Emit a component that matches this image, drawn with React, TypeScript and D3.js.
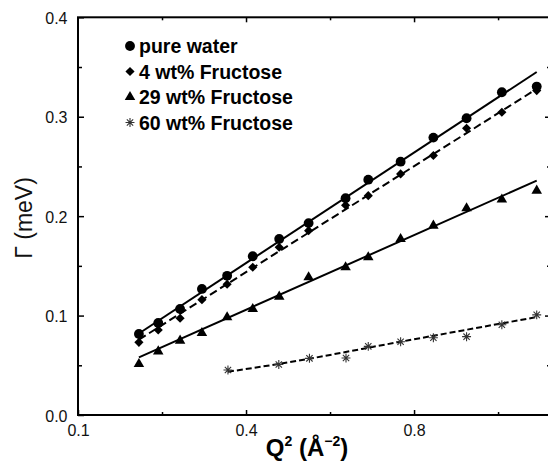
import React, { useRef, useEffect } from 'react'
import * as d3 from 'd3'

// Q^2 values shared by the first three series
const q2 = [0.145, 0.191, 0.243, 0.295, 0.355, 0.416, 0.479, 0.549, 0.637, 0.691, 0.768, 0.846, 0.925, 1.009, 1.092];
const pureWater = [0.0815, 0.0926, 0.1066, 0.1268, 0.140, 0.1597, 0.177, 0.193, 0.218, 0.2367, 0.2548, 0.279, 0.2985, 0.3246, 0.3303];
const fructose4 = [0.0731, 0.0855, 0.0973, 0.116, 0.1315, 0.1486, 0.1687, 0.1854, 0.211, 0.2206, 0.2425, 0.261, 0.2884, 0.3045, 0.3263];
const fructose29 = [0.0513, 0.064, 0.0748, 0.0825, 0.0983, 0.1066, 0.119, 0.1385, 0.1486, 0.1587, 0.177, 0.1904, 0.2079, 0.2167, 0.2257];

const q2Fructose60 = [0.357, 0.478, 0.551, 0.638, 0.691, 0.768, 0.846, 0.925, 1.009, 1.092];
const fructose60 = [0.0453, 0.0508, 0.057, 0.0573, 0.069, 0.0737, 0.0777, 0.0788, 0.0908, 0.1007];

// fitted lines, [Q^2, Gamma]
const fitWater: [number, number][] = [[0.145, 0.082], [1.092, 0.345]];
const fit4: [number, number][] = [[0.145, 0.0758], [1.092, 0.328]];
const fit29: [number, number][] = [[0.145, 0.058], [1.092, 0.2357]];
const fit60: [number, number][] = [[0.357, 0.0435], [0.48, 0.0515], [0.768, 0.0737], [1.092, 0.0985]];

const seriesNames = ['pure water', '4 wt% Fructose', '29 wt% Fructose', '60 wt% Fructose'];

const yTickValues = [0, 0.1, 0.2, 0.3, 0.4];
const yTickLabels = ['0.0', '0.1', '0.2', '0.3', '0.4'];
const yMinorTicks = [0.05, 0.15, 0.25, 0.35];
const xTickValues = [0, 0.4, 0.8];
const xTickLabels = ['0.1', '0.4', '0.8'];
const xMinorTicks = [0.2, 0.6, 1.0];

const asterisk = {
    draw(context: any, size: number) {
        const r = Math.sqrt(size) / 2;
        for (let i = 0; i < 4; i++) {
            const a = (i * Math.PI) / 4;
            context.moveTo(-r * Math.cos(a), -r * Math.sin(a));
            context.lineTo(r * Math.cos(a), r * Math.sin(a));
        }
    }
};

const font = "'Liberation Sans', Arial, Helvetica, sans-serif";

export default function App() {
    const visEl = useRef<HTMLDivElement>(null);
    const width = 548;
    const height = 462;

    useEffect(() => {
        const root = d3.select(visEl.current);
        root.selectAll('*').remove();
        const svg = root.append('svg')
            .attr('width', width)
            .attr('height', height)
            .style('display', 'block')
            .style('background', '#fff');

        const left = 78, right = 551, top = 17.3, bottom = 415;
        const xScale = d3.scaleLinear().domain([0, 1.126]).range([left, right]);
        const yScale = d3.scaleLinear().domain([0, 0.4]).range([bottom, top]);

        // major ticks + labels
        const xAxis = d3.axisBottom(xScale).tickValues(xTickValues)
            .tickSize(-5).tickPadding(9.3)
            .tickFormat((d, i) => xTickLabels[i]);
        const xAxisG = svg.append('g').attr('transform', `translate(0,${bottom})`).call(xAxis);
        xAxisG.select('.domain').remove();

        const yAxis = d3.axisLeft(yScale).tickValues(yTickValues)
            .tickSize(-6).tickPadding(10.5)
            .tickFormat((d, i) => yTickLabels[i]);
        const yAxisG = svg.append('g').attr('transform', `translate(${left},0)`).call(yAxis);
        yAxisG.select('.domain').remove();
        yAxisG.selectAll('text').attr('dy', '0.38em');

        [xAxisG, yAxisG].forEach(g => {
            g.selectAll('text')
                .attr('font-family', font)
                .attr('font-size', 16)
                .attr('fill', '#111');
            g.selectAll('line').attr('stroke', '#000').attr('stroke-width', 1.5);
        });

        // minor ticks and the top / right ticks
        const tickGroups = [
            svg.append('g').attr('transform', `translate(0,${bottom})`)
                .call(d3.axisBottom(xScale).tickValues(xMinorTicks).tickSize(-3).tickFormat(() => '')),
            svg.append('g').attr('transform', `translate(0,${top})`)
                .call(d3.axisTop(xScale).tickValues(xTickValues.slice(1)).tickSize(-5).tickFormat(() => '')),
            svg.append('g').attr('transform', `translate(0,${top})`)
                .call(d3.axisTop(xScale).tickValues(xMinorTicks).tickSize(-3).tickFormat(() => '')),
            svg.append('g').attr('transform', `translate(${left},0)`)
                .call(d3.axisLeft(yScale).tickValues(yMinorTicks).tickSize(-4).tickFormat(() => '')),
            svg.append('g').attr('transform', `translate(${right},0)`)
                .call(d3.axisRight(yScale).tickValues(yTickValues.slice(1, 4)).tickSize(-6).tickFormat(() => '')),
            svg.append('g').attr('transform', `translate(${right},0)`)
                .call(d3.axisRight(yScale).tickValues(yMinorTicks).tickSize(-4).tickFormat(() => '')),
        ];
        tickGroups.forEach(g => {
            g.select('.domain').remove();
            g.selectAll('line').attr('stroke', '#000').attr('stroke-width', 1.5);
        });

        // frame
        svg.append('rect')
            .attr('x', left).attr('y', top)
            .attr('width', right - left).attr('height', bottom - top)
            .attr('fill', 'none').attr('stroke', '#000').attr('stroke-width', 2);

        // fit lines
        const line = d3.line<[number, number]>().x(d => xScale(d[0])).y(d => yScale(d[1]));
        const fits = [
            { data: fitWater, dash: null, curve: d3.curveLinear },
            { data: fit4, dash: '8,4', curve: d3.curveLinear },
            { data: fit29, dash: null, curve: d3.curveLinear },
            { data: fit60, dash: '6,3', curve: d3.curveMonotoneX },
        ];
        fits.forEach(f => {
            svg.append('path')
                .attr('d', line.curve(f.curve)(f.data))
                .attr('fill', 'none')
                .attr('stroke', '#000')
                .attr('stroke-width', 2)
                .attr('stroke-dasharray', f.dash);
        });

        // markers
        const circle = d3.symbol().type(d3.symbolCircle).size(76)();
        const diamond = d3.symbol().type(d3.symbolSquare).size(42)();
        const triangle = d3.symbol().type(d3.symbolTriangle).size(48)();
        const star = d3.symbol().type(asterisk as any).size(80)();

        const drawMarks = (xs: number[], ys: number[], path: string | null, rotate: number, stroke: boolean) => {
            svg.append('g').selectAll('path').data(ys).enter().append('path')
                .attr('d', path)
                .attr('transform', (d, i) => `translate(${xScale(xs[i])},${yScale(d)}) rotate(${rotate})`)
                .attr('fill', stroke ? 'none' : '#000')
                .attr('stroke', stroke ? '#333' : 'none')
                .attr('stroke-width', stroke ? 1.1 : 0);
        };
        drawMarks(q2, pureWater, circle, 0, false);
        drawMarks(q2, fructose4, diamond, 45, false);
        drawMarks(q2, fructose29, triangle, 0, false);
        drawMarks(q2Fructose60, fructose60, star, 0, true);

        // legend
        const legendMarks = [circle, diamond, triangle, star];
        const legend = svg.append('g');
        seriesNames.forEach((name, i) => {
            const y = 46 + i * 25.5;
            legend.append('path')
                .attr('d', legendMarks[i])
                .attr('transform', `translate(130,${y}) rotate(${i === 1 ? 45 : 0})`)
                .attr('fill', i === 3 ? 'none' : '#000')
                .attr('stroke', i === 3 ? '#333' : 'none')
                .attr('stroke-width', i === 3 ? 1.1 : 0);
            legend.append('text')
                .attr('x', 139)
                .attr('y', y + 7)
                .attr('font-family', font)
                .attr('font-weight', 'bold')
                .attr('font-size', 19.5)
                .attr('fill', '#000')
                .text(name);
        });

        // axis titles
        svg.append('text')
            .attr('transform', `translate(32,218) rotate(-90)`)
            .attr('text-anchor', 'middle')
            .attr('font-family', font)
            .attr('font-size', 23)
            .attr('fill', '#111')
            .text('Γ (meV)');

        const xTitle = svg.append('text')
            .attr('x', 307)
            .attr('y', 456)
            .attr('text-anchor', 'middle')
            .attr('font-family', font)
            .attr('font-weight', 'bold')
            .attr('font-size', 24)
            .attr('fill', '#000');
        xTitle.append('tspan').text('Q');
        xTitle.append('tspan').attr('dy', -10).attr('font-size', 14).text('2');
        xTitle.append('tspan').attr('dy', 10).text(' (Å');
        xTitle.append('tspan').attr('dy', -10).attr('font-size', 14).text('−2');
        xTitle.append('tspan').attr('dy', 10).text(')');
    }, []);

    return (
        <div style={{ position: 'absolute', left: 0, top: 0 }}>
            <div ref={visEl}></div>
        </div>
    );
}
